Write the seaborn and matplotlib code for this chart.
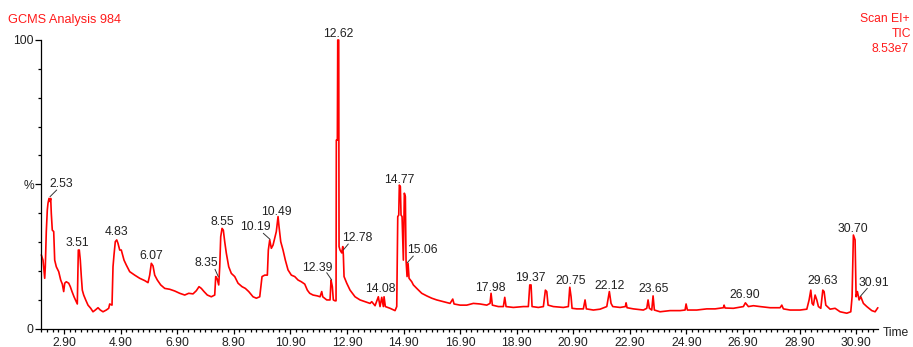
import matplotlib
matplotlib.use("Agg")
import matplotlib.pyplot as plt
from matplotlib.ticker import FixedLocator
import seaborn as sns
import pandas as pd

# ---------------- data ----------------
time_min = [
    2.098, 2.158, 2.218, 2.239, 2.274, 2.310, 2.334, 2.370, 2.405, 2.430,
    2.451, 2.486, 2.536, 2.571, 2.628, 2.713, 2.783, 2.840, 2.889, 2.925,
    2.981, 3.066, 3.123, 3.183, 3.254, 3.335, 3.370, 3.406, 3.441, 3.476,
    3.512, 3.547, 3.596, 3.667, 3.748, 3.844, 3.925, 4.006, 4.102, 4.183,
    4.279, 4.395, 4.480, 4.515, 4.597, 4.632, 4.667, 4.713, 4.763, 4.809,
    4.869, 4.925, 5.021, 5.102, 5.222, 5.399, 5.576, 5.753, 5.869, 5.929,
    5.986, 6.046, 6.106, 6.198, 6.318, 6.460, 6.636, 6.813, 6.990, 7.167,
    7.308, 7.460, 7.577, 7.672, 7.753, 7.849, 7.965, 8.107, 8.227, 8.262,
    8.308, 8.368, 8.404, 8.439, 8.485, 8.531, 8.580, 8.637, 8.722, 8.814,
    8.934, 9.051, 9.192, 9.309, 9.429, 9.581, 9.698, 9.818, 9.899, 9.995,
    10.087, 10.122, 10.171, 10.228, 10.288, 10.348, 10.404, 10.465, 10.500, 10.560,
    10.641, 10.723, 10.818, 10.935, 11.055, 11.172, 11.288, 11.408, 11.500, 11.585,
    11.702, 11.854, 11.949, 12.009, 12.045, 12.186, 12.303, 12.338, 12.384, 12.419,
    12.479, 12.515, 12.525, 12.561, 12.575, 12.610, 12.621, 12.656, 12.716, 12.752,
    12.773, 12.798, 12.893, 13.010, 13.186, 13.363, 13.540, 13.717, 13.777, 13.894,
    14.010, 14.070, 14.130, 14.187, 14.212, 14.258, 14.424, 14.600, 14.660, 14.696,
    14.731, 14.752, 14.788, 14.812, 14.848, 14.894, 14.929, 14.965, 14.989, 15.025,
    15.060, 15.096, 15.191, 15.248, 15.368, 15.544, 15.721, 15.898, 16.075, 16.308,
    16.545, 16.640, 16.686, 16.899, 17.135, 17.368, 17.605, 17.842, 17.958, 17.994,
    18.040, 18.252, 18.429, 18.478, 18.524, 18.782, 19.135, 19.312, 19.362, 19.408,
    19.443, 19.666, 19.843, 19.914, 19.963, 20.009, 20.196, 20.550, 20.726, 20.776,
    20.822, 20.857, 21.023, 21.256, 21.316, 21.363, 21.610, 21.847, 22.084, 22.175,
    22.235, 22.296, 22.554, 22.741, 22.766, 22.801, 23.024, 23.377, 23.497, 23.543,
    23.589, 23.674, 23.720, 23.766, 23.967, 24.321, 24.675, 24.851, 24.887, 24.933,
    25.265, 25.618, 25.912, 26.205, 26.230, 26.265, 26.558, 26.912, 26.983, 27.089,
    27.266, 27.502, 27.856, 28.209, 28.270, 28.326, 28.563, 28.916, 29.154, 29.235,
    29.295, 29.341, 29.387, 29.447, 29.507, 29.564, 29.648, 29.719, 29.765, 29.825,
    29.977, 30.153, 30.330, 30.567, 30.708, 30.754, 30.800, 30.860, 30.896, 30.942,
    31.002, 31.062, 31.154, 31.274, 31.451, 31.568, 31.664,
]

intensity_pct = [
    25.5, 23.7, 17.4, 21.4, 33.6, 41.1, 43.4, 45.1, 44.0, 45.1,
    39.9, 34.1, 33.6, 23.7, 21.4, 19.7, 16.8, 15.4, 12.8, 15.7,
    16.2, 15.7, 14.5, 12.8, 11.0, 9.3, 8.5, 27.2, 27.2, 23.7,
    18.0, 13.3, 11.6, 9.9, 8.1, 7.0, 5.8, 6.4, 7.2, 6.4,
    5.8, 6.4, 7.0, 8.5, 8.1, 21.4, 25.5, 30.1, 30.7, 29.5,
    27.2, 27.2, 23.7, 22.0, 19.7, 18.5, 17.4, 16.6, 15.9, 18.5,
    22.6, 21.7, 18.5, 16.8, 15.1, 13.9, 13.6, 13.0, 12.2, 11.6,
    12.2, 12.0, 13.1, 14.5, 13.9, 12.8, 11.6, 11.0, 11.6, 18.0,
    17.4, 15.1, 21.4, 31.8, 34.7, 34.1, 30.1, 26.1, 21.4, 19.1,
    18.0, 15.7, 14.5, 13.9, 12.8, 11.0, 10.5, 11.0, 18.0, 18.5,
    18.5, 27.2, 30.7, 27.8, 28.9, 31.3, 33.6, 38.8, 35.3, 30.1,
    27.2, 23.7, 20.3, 18.5, 18.0, 16.8, 16.2, 15.4, 13.3, 12.2,
    11.6, 11.3, 11.0, 12.8, 11.0, 9.9, 9.9, 16.8, 14.5, 9.9,
    9.6, 9.6, 65.3, 65.3, 100.0, 100.0, 28.4, 27.2, 26.2, 28.4,
    25.5, 18.0, 15.7, 13.3, 11.0, 9.9, 9.3, 8.7, 9.3, 7.9,
    11.0, 7.6, 10.8, 7.6, 11.0, 7.6, 7.0, 6.2, 7.6, 38.8,
    39.3, 49.7, 49.2, 39.3, 38.8, 23.7, 46.9, 45.7, 23.7, 18.0,
    22.6, 17.4, 16.2, 15.1, 13.9, 12.2, 11.3, 10.5, 9.9, 9.3,
    8.7, 10.2, 8.5, 8.1, 8.1, 8.7, 8.5, 8.1, 8.7, 12.2,
    8.1, 7.6, 7.6, 10.8, 7.6, 7.3, 7.6, 7.6, 15.1, 15.1,
    7.6, 7.3, 7.6, 13.3, 12.8, 8.1, 7.6, 7.3, 7.6, 14.3,
    11.0, 7.0, 6.8, 6.8, 9.9, 6.8, 6.4, 6.7, 7.6, 12.8,
    8.7, 7.6, 7.3, 7.6, 8.9, 7.2, 6.8, 6.4, 7.0, 9.9,
    7.0, 6.4, 11.3, 6.4, 5.8, 6.2, 6.2, 6.4, 8.5, 6.4,
    6.4, 6.8, 6.8, 7.2, 8.1, 7.1, 7.0, 7.6, 8.9, 7.6,
    7.9, 7.6, 7.2, 7.2, 8.1, 6.8, 6.4, 6.4, 6.7, 9.9,
    13.3, 8.7, 8.1, 11.6, 9.9, 7.6, 7.0, 13.3, 12.8, 8.1,
    6.7, 7.0, 5.8, 5.3, 5.8, 11.0, 32.4, 30.7, 11.0, 12.8,
    9.9, 11.0, 8.7, 7.6, 6.2, 5.8, 7.2,
]

peak_labels = ["2.53", "3.51", "4.83", "6.07", "8.35", "8.55", "10.19", "10.49",
               "12.39", "12.62", "12.78", "14.08", "14.77", "15.06", "17.98",
               "19.37", "20.75", "22.12", "23.65", "26.90", "29.63", "30.70", "30.91"]

x_major_ticks = [2.90, 4.90, 6.90, 8.90, 10.90, 12.90, 14.90, 16.90,
                 18.90, 20.90, 22.90, 24.90, 26.90, 28.90, 30.90]
x_tick_labels = ["2.90", "4.90", "6.90", "8.90", "10.90", "12.90", "14.90", "16.90",
                 "18.90", "20.90", "22.90", "24.90", "26.90", "28.90", "30.90"]
y_major_ticks = [0, 50, 100]
y_tick_labels = ["0", "%", "100"]

title_left = "GCMS Analysis 984"
title_right = ["Scan EI+", "TIC", "8.53e7"]
x_axis_name = "Time"

# ---------------- layout ----------------
W, H = 913, 347
X0, X1 = 2.087, 31.67      # axis time range
AX_L, AX_R = 41, 878        # pixel extent of x axis
AX_TOP, AX_BOT = 40, 328.5  # pixel extent of y axis (100 .. 0)

# label centres (pixels) for each peak label, same order as peak_labels
label_px = [(61.7, 183), (77.5, 242), (116, 231), (151.3, 255), (206.3, 261.5),
            (222.5, 220.5), (255.3, 226), (276.7, 211), (317, 267), (338, 32.5),
            (357, 236.5), (380, 287.5), (399.7, 178.3), (422.5, 249), (490.5, 287),
            (530.8, 276.5), (570.5, 280), (610, 284.5), (653.3, 288), (744.7, 293.8),
            (822.5, 280), (852.8, 227.7), (873.7, 281.3)]
# leader lines (pixels) for labels set off from their peak
leader_px = {"2.53": ((50, 196.7), (56.7, 190)),
             "8.35": ((215, 269.3), (218.3, 276.7)),
             "10.19": ((263.3, 233.3), (270, 239.3)),
             "12.39": ((326.7, 272.7), (331.7, 280)),
             "12.78": ((343.3, 250), (348.3, 244)),
             "15.06": ((407.3, 262.7), (413.3, 256)),
             "30.91": ((860, 296.7), (867.3, 288.3))}


def px_to_data(x, y):
    t = X0 + (x - AX_L) * (X1 - X0) / (AX_R - AX_L)
    v = (AX_BOT - y) * 100.0 / (AX_BOT - AX_TOP)
    return t, v


sns.set_theme(style="ticks")
FONT = ["Liberation Sans", "DejaVu Sans"]
plt.rcParams["font.family"] = FONT

fig = plt.figure(figsize=(W / 100, H / 100), dpi=100)
ax = fig.add_axes([AX_L / W, 1 - AX_BOT / H, (AX_R - AX_L) / W, (AX_BOT - AX_TOP) / H])

df = pd.DataFrame({"time": time_min, "intensity": intensity_pct})
sns.lineplot(data=df, x="time", y="intensity", color="#ff0000", linewidth=1.2,
             estimator=None, sort=False, ax=ax, legend=False)
for ln in ax.lines:
    ln.set_clip_on(False)

ax.set_xlim(X0, X1)
ax.set_ylim(0, 100)
ax.set_xlabel("")
ax.set_ylabel("")
ax.set_facecolor("white")
for s in ["top", "right"]:
    ax.spines[s].set_visible(False)
for s in ["left", "bottom"]:
    ax.spines[s].set_color("black")
    ax.spines[s].set_linewidth(0.9)

TXT = "#222222"
FS = 8.7

ax.set_xticks(x_major_ticks)
ax.set_xticklabels(x_tick_labels, fontsize=FS, color=TXT)
minor_x = [round(2.10 + 0.2 * i, 2) for i in range(149) if 2.10 + 0.2 * i <= X1]
ax.xaxis.set_minor_locator(FixedLocator(minor_x))
ax.set_yticks(y_major_ticks)
ax.set_yticklabels(y_tick_labels, fontsize=FS, color=TXT)
ax.yaxis.set_minor_locator(FixedLocator([10, 20, 30, 40, 60, 70, 80, 90]))

ax.tick_params(axis="x", which="major", direction="out", length=3.4, width=0.9,
               color="black", pad=2.5)
ax.tick_params(axis="x", which="minor", direction="out", length=2.2, width=0.9,
               color="black")
ax.tick_params(axis="y", which="major", direction="out", length=4.0, width=0.9,
               color="black", pad=1.2)
ax.tick_params(axis="y", which="minor", direction="out", length=2.4, width=0.9,
               color="black")

# peak labels
for lab, (px, py) in zip(peak_labels, label_px):
    tx, ty = px_to_data(px, py + 4.3)
    ax.text(tx, ty, lab, ha="center", va="baseline", fontsize=FS, color=TXT,
            clip_on=False)
for lab, (p0, p1) in leader_px.items():
    a = px_to_data(*p0)
    b = px_to_data(*p1)
    ax.plot([a[0], b[0]], [a[1], b[1]], color="#333333", lw=0.7, clip_on=False)

# header texts
RED = "#ff1a1a"
fig.text(8.3 / W, 1 - 22.5 / H, title_left, ha="left", va="baseline",
         fontsize=9.2, color=RED)
for txt, (xr, yb) in zip(title_right, [(910, 22.5), (911, 37), (909, 51.5)]):
    fig.text(xr / W, 1 - yb / H, txt, ha="right", va="baseline",
             fontsize=FS, color=RED)
fig.text(883 / W, 1 - 336 / H, x_axis_name, ha="left", va="baseline",
         fontsize=FS, color=TXT)

fig.savefig("out.png", dpi=100, facecolor="white")
